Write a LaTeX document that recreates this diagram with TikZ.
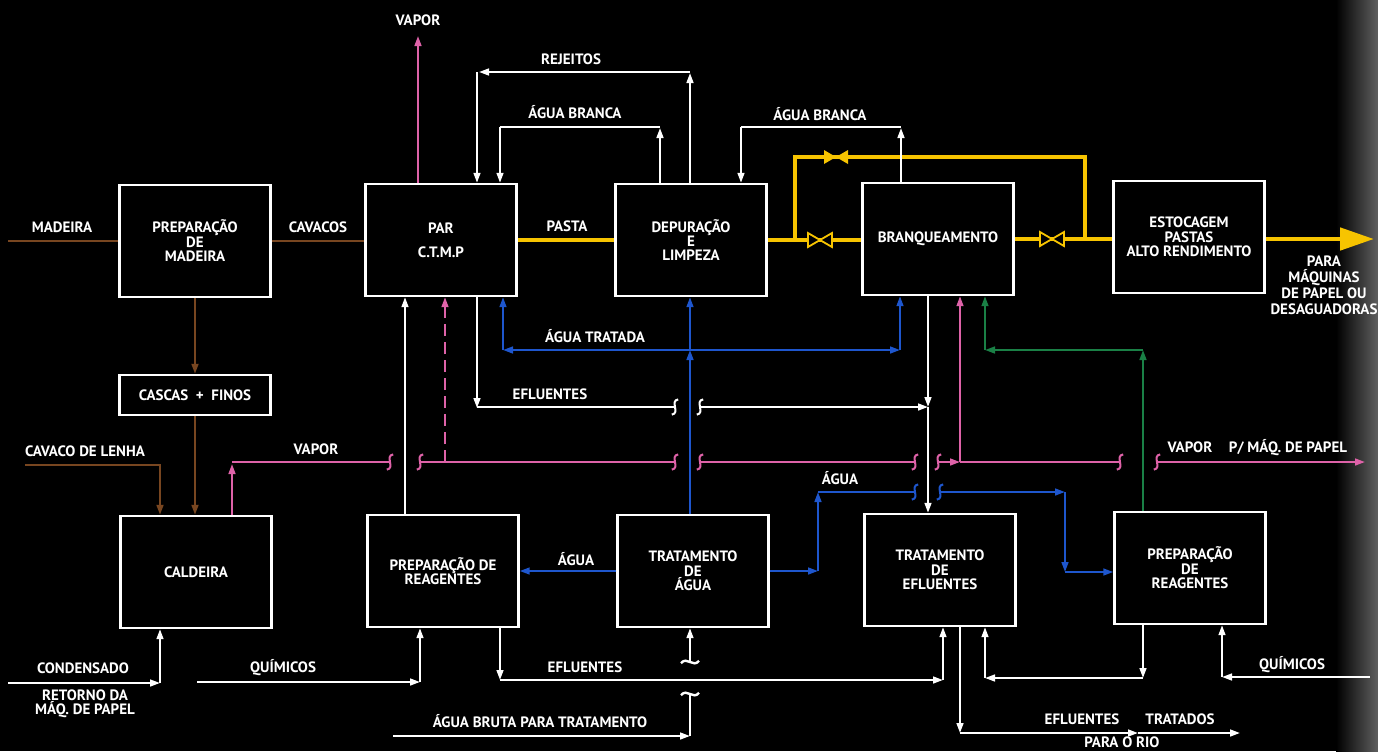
\documentclass[tikz,border=0pt]{standalone}
\usepackage{fontspec}
\setmainfont{PT Sans}
\usepackage{tikz}
\usetikzlibrary{arrows.meta, positioning}
\definecolor{vaporPink}{RGB}{222,98,168}
\definecolor{waterBlue}{RGB}{30,86,205}
\definecolor{reagGreen}{RGB}{26,128,70}
\definecolor{woodBrown}{RGB}{120,70,32}
\definecolor{pulpYellow}{RGB}{247,196,0}
\newcommand{\diagfont}{\fontsize{7.5}{7.2}\selectfont\bfseries}
\tikzset{
  brk/.pic={\draw[line width=1pt] (-1.6pt,-3.8pt) .. controls (2.8pt,-3.2pt) and (-2.8pt,3.2pt) .. (1.6pt,3.8pt);},
  tld/.pic={\draw[line width=1.2pt] (-4.5pt,-0.6pt) .. controls (-1.5pt,3.2pt) and (1.5pt,-3.2pt) .. (4.5pt,0.6pt);},
  valveo/.pic={\draw[pulpYellow, fill=black, line width=0.9pt] (-6pt,-3.5pt) -- (6pt,3.5pt) -- (6pt,-3.5pt) -- (-6pt,3.5pt) -- cycle;},
  valvef/.pic={\fill[pulpYellow] (-6pt,-3.5pt) -- (6pt,3.5pt) -- (6pt,-3.5pt) -- (-6pt,3.5pt) -- cycle;},
}

\begin{document}
\begin{tikzpicture}[x=0.5pt, y=-0.5pt,
  box/.style={rectangle, draw=white, line width=1.2pt, fill=black, text=white,
              minimum width=75.5pt, minimum height=56pt, align=center,
              font=\diagfont, inner sep=1pt},
  txt/.style={text=white, font=\diagfont, inner sep=0pt, align=center},
  lbl/.style={txt, text height=5.2pt, text depth=0pt},
  wline/.style={draw=white, line width=1pt},
  vap/.style={draw=vaporPink, line width=1pt},
  bl/.style={draw=waterBlue, line width=1pt},
  gr/.style={draw=reagGreen, line width=1pt},
  wood/.style={draw=woodBrown, line width=1.1pt},
  pulp/.style={draw=pulpYellow, line width=2.4pt},
  >={Triangle[length=5pt, width=3.4pt]},
]
  \useasboundingbox (0,0) rectangle (1378,751);
  \fill[black] (0,0) rectangle (1378,751);
  \shade[left color=black, right color=gray!75!black] (1336,0) rectangle (1378,751);

  \node[box] (prepmad) at (195,241) {PREPARAÇÃO\\DE\\MADEIRA};
  \node[box] (par) at (441,240) {PAR\\[5pt]C.T.M.P};
  \node[box] (depur) at (691,240) {DEPURAÇÃO\\E\\LIMPEZA};
  \node[box] (branq) at (938,239) {BRANQUEAMENTO};
  \node[box] (estoc) at (1189,237) {ESTOCAGEM\\PASTAS\\ALTO RENDIMENTO};
  \node[box, minimum height=20pt] (cascas) at (195,395) {CASCAS \ + \ FINOS};
  \node[box] (caldeira) at (196,572) {CALDEIRA};
  \node[box] (reagL) at (443,571) {PREPARAÇÃO DE\\REAGENTES};
  \node[box] (tratagua) at (693,571) {TRATAMENTO\\DE\\ÁGUA};
  \node[box] (tratefl) at (940,570) {TRATAMENTO\\DE\\EFLUENTES};
  \node[box] (reagR) at (1190,568) {PREPARAÇÃO\\DE\\REAGENTES};

  \coordinate (madIn) at (8,241);
  \coordinate (lenhaIn) at (25,465);
  \draw[wood] (madIn) -- (prepmad.west);
  \draw[wood] (prepmad.east) -- (prepmad.east -| par.west);
  \draw[wood,->] (prepmad.south) -- (cascas.north);
  \draw[wood,->] (cascas.south) -- (cascas.south |- caldeira.north);
  \draw[wood,->] (lenhaIn) -| (caldeira.north -| 160,0);

  \coordinate (brkV1) at (390,462);
  \coordinate (brkV2) at (420,462);
  \coordinate (brkV3) at (675,462);
  \coordinate (brkV4) at (700,462);
  \coordinate (brkV5) at (915,462);
  \coordinate (brkV6) at (938,462);
  \coordinate (vapJ) at (960,462);
  \coordinate (brkV7) at (1120,462);
  \coordinate (brkV8) at (1157,462);
  \coordinate (vapOut) at (1365,462);
  \draw[vap,->] (par.north -| 418,0) -- (418,36);
  \draw[vap,->] (caldeira.north -| 232,0) -- (232,464);
  \draw[vap] (232,462) -- (brkV1);
  \draw[vap] (brkV2) -- (brkV3);
  \draw[vap] (brkV4) -- (brkV5);
  \draw[vap,->] (brkV6) -- (vapJ);
  \draw[vap] (vapJ) -- (brkV7);
  \draw[vap,->] (vapJ) -- (branq.south -| vapJ);
  \draw[vap,->] (brkV8) -- (vapOut);
  \draw[vap,dash pattern=on 6pt off 3pt,->] (445,462) -- (par.south -| 445,0);
  \foreach \b in {brkV1,brkV2,brkV3,brkV4,brkV5,brkV6,brkV7,brkV8}
    \pic[vaporPink] at (\b) {brk};

  \coordinate (byL) at (795,240);
  \coordinate (byR) at (1085,239);
  \draw[pulp] (par.east) -- (depur.west);
  \draw[pulp] (depur.east) -- (depur.east -| branq.west);
  \draw[pulp] (branq.east) -- (branq.east -| estoc.west);
  \draw[pulp] (byL) |- (byR |- 0,157) -- (byR);
  \draw[pulp, -{Triangle[length=17pt, width=11pt]}] (estoc.east |- byR) -- (1374,239);
  \pic at (820,240) {valveo};
  \pic at (1052,239) {valveo};
  \pic at (836,157) {valvef};

  \draw[wline,->] (depur.north -| 690,0) -- (690,73);
  \draw[wline,->] (690,72) -- (479,72);
  \draw[wline,->] (477,72) -- (par.north -| 477,0);
  \draw[wline,->] (depur.north -| 660,0) -- (660,128);
  \draw[wline] (660,127) -- (500,127);
  \draw[wline,->] (500,127) -- (par.north -| 500,0);
  \draw[wline,->] (branq.north -| 901,0) -- (901,128);
  \draw[wline] (901,127) -- (741,127);
  \draw[wline,->] (741,127) -- (depur.north -| 741,0);

  \coordinate (brkE1) at (675,407);
  \coordinate (brkE2) at (700,407);
  \coordinate (eflJ) at (928,407);
  \draw[wline,->] (reagL.north -| 405,0) -- (par.south -| 405,0);
  \draw[wline,->] (par.south -| 477,0) -- (477,408);
  \draw[wline] (477,407) -- (brkE1);
  \draw[wline,->] (brkE2) -- (eflJ);
  \draw[wline,->] (branq.south -| eflJ) -- (eflJ);
  \draw[wline,->] (eflJ) -- (tratefl.north -| eflJ);
  \foreach \b in {brkE1,brkE2}
    \pic[white] at (\b) {brk};

  \coordinate (tratJ) at (690,350);
  \coordinate (tratL) at (503,350);
  \coordinate (tratR) at (900,350);
  \draw[bl,->] (tratagua.north -| tratJ) -- (tratJ);
  \draw[bl,->] (tratJ) -- (depur.south -| tratJ);
  \draw[bl,->] (tratJ) -- (tratL);
  \draw[bl,->] (tratL) -- (par.south -| tratL);
  \draw[bl,->] (tratJ) -- (tratR);
  \draw[bl,->] (tratR) -- (branq.south -| tratR);

  \coordinate (agR1) at (818,571);
  \coordinate (agR2) at (818,492);
  \coordinate (brkB1) at (915,492);
  \coordinate (brkB2) at (940,492);
  \coordinate (agR3) at (1065,492);
  \coordinate (agR4) at (1065,572);
  \draw[bl,->] (tratagua.west) -- (reagL.east);
  \draw[bl,->] (tratagua.east) -- (agR1);
  \draw[bl,->] (agR1) -- (agR2);
  \draw[bl] (agR2) -- (brkB1);
  \draw[bl,->] (brkB2) -- (agR3);
  \draw[bl,->] (agR3) -- (agR4);
  \draw[bl,->] (agR4) -- (reagR.west |- agR4);
  \foreach \b in {brkB1,brkB2}
    \pic[waterBlue] at (\b) {brk};

  \coordinate (grA) at (1143,350);
  \coordinate (grB) at (985,350);
  \draw[gr,->] (reagR.north -| grA) -- (grA);
  \draw[gr,->] (grA) -- (grB);
  \draw[gr,->] (grB) -- (branq.south -| grB);

  \coordinate (condIn) at (8,683);
  \coordinate (condC) at (160,683);
  \coordinate (quimIn) at (197,682);
  \coordinate (quimC) at (420,682);
  \draw[wline,->] (condIn) -- (condC);
  \draw[wline,->] (condC) -- (caldeira.south -| condC);
  \draw[wline,->] (quimIn) -- (quimC);
  \draw[wline,->] (quimC) -- (reagL.south -| quimC);

  \coordinate (eflB1) at (500,680);
  \coordinate (eflB2) at (943,680);
  \draw[wline,->] (reagL.south -| eflB1) -- (eflB1);
  \draw[wline,->] (eflB1) -- (eflB2);
  \draw[wline,->] (eflB2) -- (tratefl.south -| eflB2);

  \coordinate (brutaT) at (690,662);
  \coordinate (brutaB) at (690,694);
  \coordinate (brutaC) at (690,736);
  \coordinate (brutaIn) at (393,736);
  \draw[wline,->] (brutaT) -- (tratagua.south -| brutaT);
  \draw[wline,->] (brutaIn) -- (brutaC);
  \draw[wline] (brutaC) -- (brutaB);
  \pic[white] at (brutaT) {tld};
  \pic[white] at (brutaB) {tld};

  \coordinate (rioC) at (960,733);
  \coordinate (rioM) at (1138,733);
  \coordinate (rioOut) at (1240,733);
  \draw[wline,->] (tratefl.south -| rioC) -- (rioC);
  \draw[wline,->] (rioC) -- (rioM);
  \draw[wline,->] (rioM) -- (rioOut);

  \coordinate (retR) at (1143,678);
  \coordinate (retL) at (985,678);
  \coordinate (quimRIn) at (1370,677);
  \coordinate (quimRC) at (1222,677);
  \draw[wline,->] (reagR.south -| retR) -- (retR);
  \draw[wline,->] (retR) -- (retL);
  \draw[wline,->] (retL) -- (tratefl.south -| retL);
  \draw[wline,->] (quimRIn) -- (quimRC);
  \draw[wline,->] (quimRC) -- (reagR.south -| quimRC);

  \node[lbl] (lMadeira) at (62,227) {MADEIRA};
  \node[lbl] (lCavacos) at (318,227) {CAVACOS};
  \node[lbl] (lPasta) at (567,226) {PASTA};
  \node[lbl] (lRejeitos) at (571,59) {REJEITOS};
  \node[lbl] (lBranca1) at (575,113) {ÁGUA BRANCA};
  \node[lbl] (lBranca2) at (820,115) {ÁGUA BRANCA};
  \node[lbl] (lVapTop) at (418,20) {VAPOR};
  \node[lbl] (lLenha) at (85,451) {CAVACO DE LENHA};
  \node[lbl] (lVapCald) at (316,449) {VAPOR};
  \node[lbl] (lTratada) at (595,337) {ÁGUA TRATADA};
  \node[lbl] (lEflTop) at (550,394) {EFLUENTES};
  \node[lbl] (lAguaR) at (840,479) {ÁGUA};
  \node[lbl] (lVapOut) at (1190,447) {VAPOR};
  \node[lbl] (lMaqPapel) at (1288,447) {P/ MÁQ. DE PAPEL};
  \node[lbl] (lAguaL) at (576,560) {ÁGUA};
  \node[lbl] (lCond) at (83,668) {CONDENSADO};
  \node[txt, anchor=north] (lRetorno) at (85,689) {RETORNO DA\\MÁQ. DE PAPEL};
  \node[lbl] (lQuimL) at (283,667) {QUÍMICOS};
  \node[lbl] (lEflBot) at (585,667) {EFLUENTES};
  \node[lbl] (lBruta) at (540,722) {ÁGUA BRUTA PARA TRATAMENTO};
  \node[lbl] (lEflTrat) at (1082,719) {EFLUENTES};
  \node[lbl] (lTratados) at (1180,719) {TRATADOS};
  \node[lbl] (lRio) at (1122,742) {PARA O RIO};
  \node[lbl] (lQuimR) at (1292,664) {QUÍMICOS};
  \node[txt, anchor=north, font=\fontsize{7.5}{8}\selectfont\bfseries] (lPara) at (1324,255)
    {PARA\\MÁQUINAS\\DE PAPEL OU\\DESAGUADORAS};
\end{tikzpicture}
\end{document}
